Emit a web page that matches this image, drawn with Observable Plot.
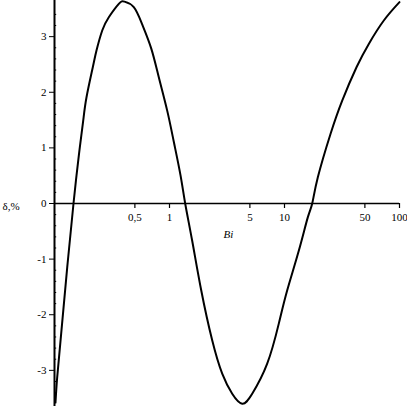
<!DOCTYPE html>
<html>
<head>
<meta charset="utf-8">
<script src="https://cdn.jsdelivr.net/npm/d3@7"></script>
<script src="https://cdn.jsdelivr.net/npm/@observablehq/plot@0.6"></script>
<style>
  html, body { margin: 0; padding: 0; background: #fff; }
  #chart svg { display: block; }
</style>
</head>
<body>
<div id="chart"></div>
<script>
// Curve: Bi (log scale) and delta, %
const bi = [0.102, 0.1056, 0.1143, 0.129, 0.1463, 0.1553, 0.166, 0.1777, 0.1898, 0.2153, 0.2318, 0.26, 0.2966, 0.3622, 0.4062, 0.4893, 0.579, 0.6932, 0.8072, 0.955, 1.09, 1.246, 1.369, 1.575, 1.887, 2.351, 2.873, 3.51, 4.288, 5.238, 7.072, 8.92, 10.56, 13.31, 15.94, 17.42, 19.49, 25.12, 31.76, 42.28, 54.08, 73.05, 100];
const delta = [-3.58, -3.12, -2.34, -1.15, 0, 0.5, 1.01, 1.49, 1.91, 2.45, 2.75, 3.11, 3.35, 3.59, 3.63, 3.53, 3.22, 2.79, 2.27, 1.67, 1.11, 0.51, 0, -0.67, -1.56, -2.46, -3.06, -3.42, -3.6, -3.42, -2.88, -2.16, -1.56, -0.85, -0.25, 0, 0.47, 1.25, 1.85, 2.45, 2.87, 3.29, 3.62];

const xTicks = [0.5, 1, 5, 10, 50, 100];
const xTickLabels = ["0,5", "1", "5", "10", "50", "100"];
const yTicks = [-3, -2, -1, 0, 1, 2, 3];
const yTickLabels = ["-3", "-2", "-1", "0", "1", "2", "3"];
const yMinorTicks = [-3.4, -3.2, -2.8, -2.6, -2.4, -2.2, -1.8, -1.6, -1.4, -1.2, -0.8, -0.6, -0.4, -0.2, 0.2, 0.4, 0.6, 0.8, 1.2, 1.4, 1.6, 1.8, 2.2, 2.4, 2.6, 2.8, 3.2, 3.4];
const xDomain = [0.1, 100];
const yDomain = [-3.65, 3.65];
const yLabel = "δ,%";
const xLabel = "Bi";
const xLabelPos = {x: 3.25, y: -0.56};

const data = bi.map((b, i) => ({bi: b, delta: delta[i]}));
const font = "'Liberation Serif', 'DejaVu Serif', serif";

const chart = Plot.plot({
  width: 407,
  height: 406,
  marginLeft: 54,
  marginRight: 8,
  marginTop: 0,
  marginBottom: 0,
  style: {fontFamily: font, fontSize: "11px", color: "#000", background: "#fff"},
  x: {type: "log", domain: xDomain, axis: null},
  y: {domain: yDomain, axis: null},
  marks: [
    // y axis
    Plot.ruleX([xDomain[0]], {stroke: "#000", strokeWidth: 2}),
    Plot.axisY({ticks: yTicks, tickSize: 5, tickPadding: 3, tickFormat: (d, i) => yTickLabels[yTicks.indexOf(d)], label: null, stroke: "#000", fill: "#000", fontSize: 11, fontFamily: font}),
    Plot.ruleY(yMinorTicks, {y: d => d, x1: xDomain[0], x2: 0.1045, stroke: "#000", strokeWidth: 1}),
    // x axis at y = 0
    Plot.ruleY([0], {stroke: "#000", strokeWidth: 1.5}),
    Plot.ruleX(xTicks, {x: d => d, y1: 0, y2: -0.09, stroke: "#000", strokeWidth: 1.2}),
    Plot.text(xTicks, {x: d => d, y: 0, dy: 14, text: (d, i) => xTickLabels[i], fill: "#000", fontSize: 11, fontFamily: font}),
    // labels
    Plot.text([yLabel], {frameAnchor: "left", y: 0, dx: -52, dy: 3, textAnchor: "start", text: d => d, fill: "#000", fontSize: 11, fontFamily: font}),
    Plot.text([xLabel], {x: xLabelPos.x, y: xLabelPos.y, text: d => d, fill: "#000", fontSize: 11, fontStyle: "italic", fontFamily: font}),
    // curve
    Plot.line(data, {x: "bi", y: "delta", stroke: "#000", strokeWidth: 2, curve: "natural"})
  ]
});
document.getElementById("chart").appendChild(chart);
</script>
</body>
</html>
